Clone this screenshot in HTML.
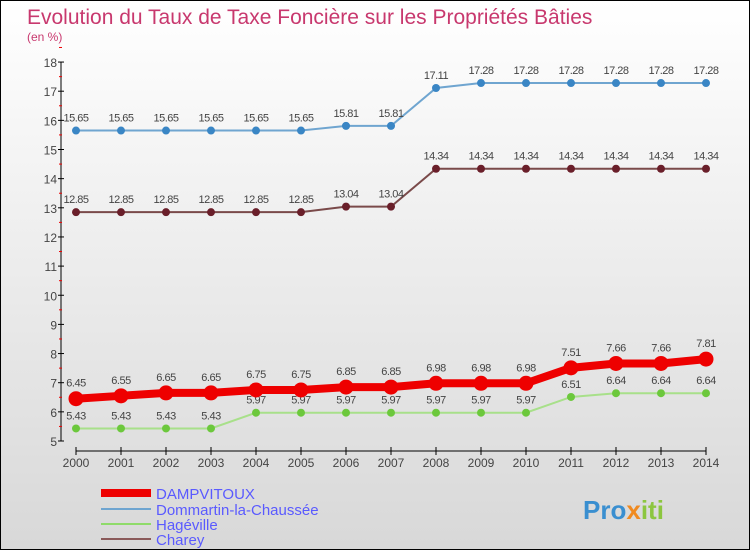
<!DOCTYPE html>
<html><head><meta charset="utf-8"><style>
body{margin:0}
#c{width:750px;height:550px;position:relative;box-sizing:border-box;border:1px solid #000;background:linear-gradient(#ffffff,#d8d8d8);font-family:"Liberation Sans",sans-serif;overflow:hidden}
</style></head><body>
<div id="c">
<svg id="s" width="750" height="550" style="position:absolute;left:0;top:0">
<text x="26" y="23" font-size="21" fill="#c8386e">Evolution du Taux de Taxe Foncière sur les Propriétés Bâties</text>
<text x="26" y="40" font-size="12" fill="#c8386e">(en %)</text>
<g id="g"></g>
<g>
<line x1="100" y1="492" x2="150" y2="492" stroke="#e00" stroke-width="8"/><text x="155" y="498" font-size="15" fill="#5a5aff">DAMPVITOUX</text>
<line x1="100" y1="508" x2="150" y2="508" stroke="#6fa5d0" stroke-width="2"/><text x="155" y="514" font-size="15" fill="#5a5aff">Dommartin-la-Chaussée</text>
<line x1="100" y1="523" x2="150" y2="523" stroke="#8fdb6a" stroke-width="2"/><text x="155" y="529" font-size="15" fill="#5a5aff">Hagéville</text>
<line x1="100" y1="538" x2="150" y2="538" stroke="#8a5a5a" stroke-width="2"/><text x="155" y="544" font-size="15" fill="#5a5aff">Charey</text>
</g>
<text x="582" y="518" font-size="26" font-weight="bold" fill="#3a8fd0">Pro<tspan fill="#f08a20">x</tspan><tspan fill="#8cc63f">iti</tspan></text>
</svg>
</div>
<script>
const years=[2000,2001,2002,2003,2004,2005,2006,2007,2008,2009,2010,2011,2012,2013,2014];
const dampvitoux=[6.45,6.55,6.65,6.65,6.75,6.75,6.85,6.85,6.98,6.98,6.98,7.51,7.66,7.66,7.81];
const dommartin=[15.65,15.65,15.65,15.65,15.65,15.65,15.81,15.81,17.11,17.28,17.28,17.28,17.28,17.28,17.28];
const hageville=[5.43,5.43,5.43,5.43,5.97,5.97,5.97,5.97,5.97,5.97,5.97,6.51,6.64,6.64,6.64];
const charey=[12.85,12.85,12.85,12.85,12.85,12.85,13.04,13.04,14.34,14.34,14.34,14.34,14.34,14.34,14.34];
const yTicks=[5,6,7,8,9,10,11,12,13,14,15,16,17,18];
const NS="http://www.w3.org/2000/svg",g=document.getElementById('g');
const xs=i=>75+i*45, ys=v=>440-(v-5)*29.15;
function el(t,a,p){const e=document.createElementNS(NS,t);for(const k in a)e.setAttribute(k,a[k]);(p||g).appendChild(e);return e;}
let ax=el('line',{x1:60,y1:ys(18),x2:60,y2:ys(5),stroke:'#000'});


yTicks.forEach(v=>{el('line',{x1:57,y1:ys(v),x2:63,y2:ys(v),stroke:'#000'});
el('line',{x1:58,y1:ys(v+0.5),x2:61,y2:ys(v+0.5),stroke:'#e00'});
let t=el('text',{x:56,y:ys(v)+5,'font-size':12,fill:'#444','text-anchor':'end'});t.textContent=v;

});
let xa=el('line',{x1:75,y1:450,x2:705,y2:450,stroke:'#000'});


years.forEach((y,i)=>{el('line',{x1:xs(i),y1:446,x2:xs(i),y2:454,stroke:'#000'});
let t=el('text',{x:xs(i),y:466,'font-size':12,fill:'#444','text-anchor':'middle'});t.textContent=y;

});
function series(name,data,col,dot,w,r,lblOff){
 const grp=el('g',{});
 
 
 el('polyline',{points:data.map((v,i)=>xs(i)+','+ys(v)).join(' '),fill:'none',stroke:col,'stroke-width':w},grp);
 data.forEach((v,i)=>{let c=el('circle',{cx:xs(i),cy:ys(v),r:r,fill:dot},grp);
 
 
 let t=el('text',{x:xs(i),y:ys(v)-lblOff,'font-size':11,fill:'#444','text-anchor':'middle','letter-spacing':'-0.5'},grp);t.textContent=v;
 
 });
}
series('dommartin',dommartin,'#6fa5d0','#3a86c5',2,4,9);
series('charey',charey,'#7a4a4a','#6a1f2a',2,4,9);
series('hageville',hageville,'#a8e08a','#6cc83c',2,4,9);
series('dampvitoux',dampvitoux,'#e00','#e00',8,7.5,12);
</script>
</body></html>
